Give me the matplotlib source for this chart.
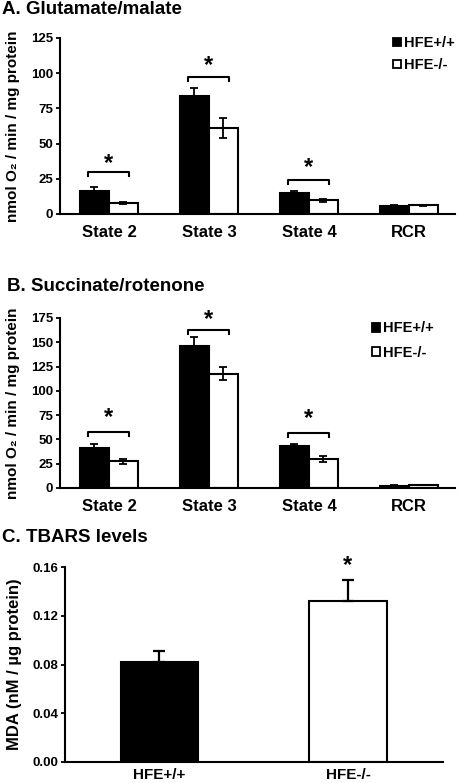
import matplotlib

matplotlib.use("Agg")

import matplotlib.patches as mpatches
import matplotlib.pyplot as plt
import numpy as np

plt.rcParams["font.family"] = ["Liberation Sans", "DejaVu Sans"]
plt.rcParams["font.weight"] = "bold"

# ------------------------------------------------------------------ data

states = ["State 2", "State 3", "State 4", "RCR"]
groups = ["HFE+/+", "HFE-/-"]

# A. glutamate/malate
glu_wt = [16.5, 84.0, 15.1, 5.8]
glu_wt_err = [2.7, 5.6, 1.5, 0.5]
glu_ko = [8.0, 61.3, 9.6, 6.2]
glu_ko_err = [0.8, 7.2, 1.1, 0.5]
glu_bracket = [29.8, 97.3, 24.1]
glu_star = [36.2, 105.8, 32.7]

# B. succinate/rotenone
suc_wt = [40.8, 146.0, 43.2, 2.4]
suc_wt_err = [4.2, 9.0, 2.5, 0.3]
suc_ko = [27.5, 117.7, 29.9, 3.1]
suc_ko_err = [2.6, 6.5, 3.0, 0.3]
suc_bracket = [57.6, 162.6, 56.9]
suc_star = [72.8, 173.0, 71.7]

# C. TBARS
tbars = [0.0823, 0.1324]
tbars_err = [0.0090, 0.0170]
tbars_star = 0.1616

W, H = 460, 783


def px_axes(left, top, right, bottom):
    return [left / W, 1 - bottom / H, (right - left) / W, (bottom - top) / H]


def style_axes(ax, xsize):
    for s in ("top", "right"):
        ax.spines[s].set_visible(False)
    for s in ("left", "bottom"):
        ax.spines[s].set_linewidth(1.5)
    ax.tick_params(axis="y", length=3, width=1.3, pad=2, labelsize=9.5)
    ax.tick_params(axis="x", length=0, labelsize=xsize)
    for lab in ax.get_xticklabels() + ax.get_yticklabels():
        lab.set_fontweight("bold")


def bracket(ax, x0, x1, y, drop, star_y):
    ax.plot([x0, x0, x1, x1], [y - drop, y, y, y - drop], color="black", lw=1.5,
            solid_joinstyle="round", clip_on=False)
    ax.text((x0 + x1) / 2, star_y, "*", ha="center", va="center", fontsize=17,
            fontweight="bold", clip_on=False)


def state_panel(ax, wt, wt_err, ko, ko_err, br, st, ymax, step, drop):
    x = np.arange(len(states))
    bw = 0.29
    ek = dict(ecolor="black", elinewidth=1.3, capsize=3, capthick=1.3)
    ax.bar(x - bw / 2, wt, bw, color="black", edgecolor="black", lw=1.5,
           yerr=wt_err, error_kw=ek, label=groups[0])
    ax.bar(x + bw / 2, ko, bw, color="white", edgecolor="black", lw=1.5,
           yerr=ko_err, error_kw=ek, label=groups[1])
    for i in range(len(br)):
        bracket(ax, x[i] - 0.21, x[i] + 0.20, br[i], drop, st[i])
    ax.set_xlim(-0.49, 3.46)
    ax.set_ylim(0, ymax)
    ax.set_yticks(np.arange(0, ymax + 1, step))
    ax.set_xticks(x)
    ax.set_xticklabels(states)
    ax.set_ylabel("nmol O\u2082 / min / mg protein", fontsize=11, fontweight="bold")
    style_axes(ax, 12)
    ax.tick_params(axis="x", pad=8)


def legend(ax, anchor, spacing):
    handles = [
        mpatches.Patch(facecolor="black", edgecolor="black", lw=1.3, label=groups[0]),
        mpatches.Patch(facecolor="white", edgecolor="black", lw=1.3, label=groups[1]),
    ]
    ax.legend(handles=handles, loc="upper left", bbox_to_anchor=anchor, frameon=False,
              borderpad=0, borderaxespad=0, handlelength=0.55, handleheight=0.55,
              handletextpad=0.2, labelspacing=spacing,
              prop=dict(size=10.5, weight="bold"))


fig = plt.figure(figsize=(W / 100, H / 100), dpi=100)

# A
axA = fig.add_axes(px_axes(60, 38, 455, 214))
state_panel(axA, glu_wt, glu_wt_err, glu_ko, glu_ko_err, glu_bracket, glu_star,
            125, 25, 2.8)
axA.yaxis.set_label_coords(-0.101, 0.5)
legend(axA, (0.843, 1.01), 0.55)
fig.text(2 / W, 1 - 14 / H, "A. Glutamate/malate", fontsize=13.5, fontweight="bold",
         va="baseline", ha="left")

# B
axB = fig.add_axes(px_axes(60, 318, 455, 488))
state_panel(axB, suc_wt, suc_wt_err, suc_ko, suc_ko_err, suc_bracket, suc_star,
            175, 25, 4.0)
axB.yaxis.set_label_coords(-0.101, 0.5)
legend(axB, (0.79, 0.98), 0.7)
fig.text(7 / W, 1 - 291 / H, "B. Succinate/rotenone", fontsize=13.5, fontweight="bold",
         va="baseline", ha="left")

# C
axC = fig.add_axes(px_axes(65, 567, 443, 762))
xc = np.arange(len(groups))
axC.bar(xc, tbars, 0.41, color=["black", "white"], edgecolor="black", lw=1.5,
        yerr=[[0, 0], tbars_err],
        error_kw=dict(ecolor="black", elinewidth=1.6, capsize=4, capthick=1.6))
axC.text(xc[1], tbars_star, "*", ha="center", va="center", fontsize=17,
         fontweight="bold", clip_on=False)
axC.set_xlim(-0.501, 1.504)
axC.set_ylim(0, 0.16)
axC.set_yticks(np.arange(0, 0.161, 0.04))
axC.yaxis.set_major_formatter(matplotlib.ticker.FormatStrFormatter("%.2f"))
axC.set_xticks(xc)
axC.set_xticklabels(groups)
axC.set_ylabel("MDA (nM / \u00b5g protein)", fontsize=12, fontweight="bold")
style_axes(axC, 11)
axC.tick_params(axis="x", pad=4)
axC.yaxis.set_label_coords(-0.114, 0.5)
fig.text(2 / W, 1 - 542 / H, "C. TBARS levels", fontsize=13.5, fontweight="bold",
         va="baseline", ha="left")

fig.savefig("out.png", dpi=100)
